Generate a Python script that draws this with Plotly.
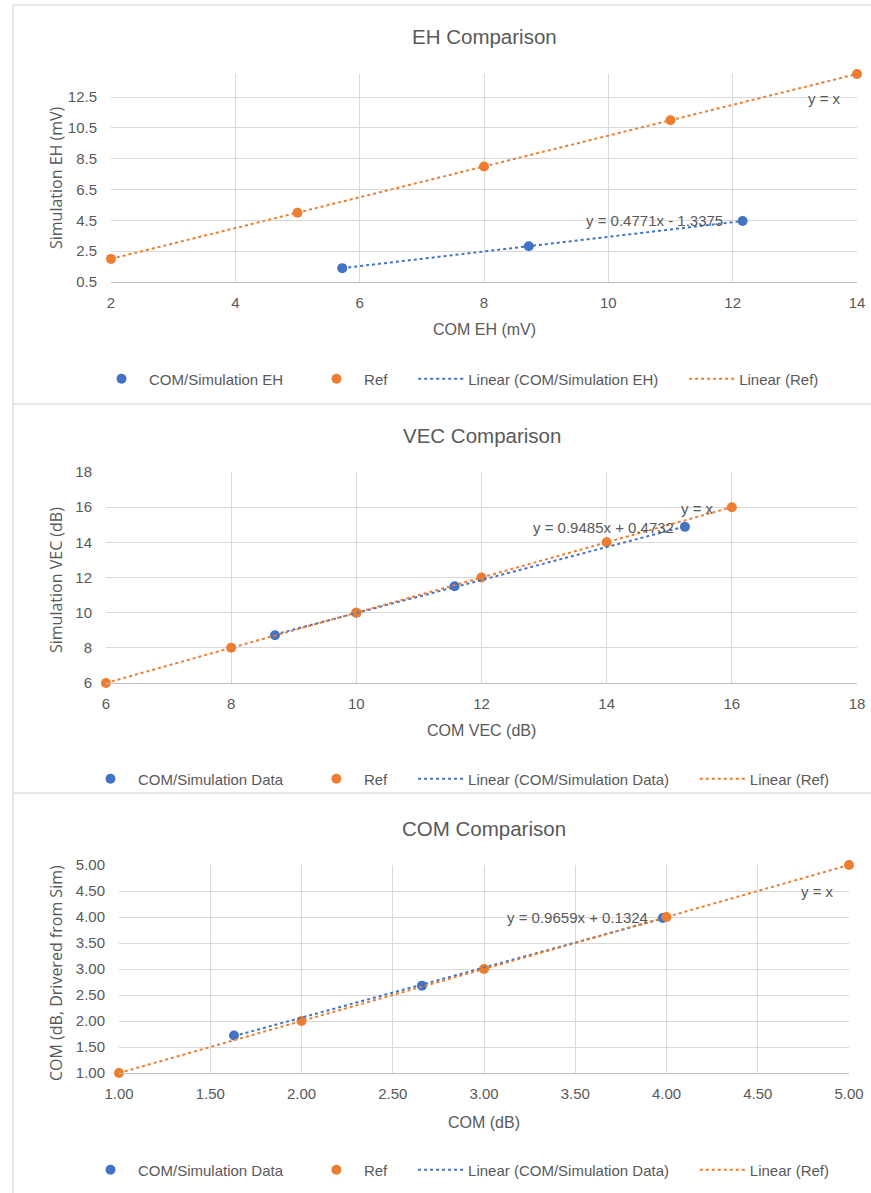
import numpy as np
import plotly.graph_objects as go

BLUE = "#4472C4"
ORANGE = "#ED7D31"
GRID = "#d9d9d9"
TXT = "#595959"
FONT = "Liberation Sans Narrow, Liberation Sans, sans-serif"
YFONT = "Open Sans, sans-serif"

W, H = 871, 1193
GAP = "\u00a0" * 5

# ---------------- data ----------------
titles = ["EH Comparison", "VEC Comparison", "COM Comparison"]
x_titles = ["COM EH (mV)", "COM VEC (dB)", "COM (dB)"]
y_titles = ["Simulation EH (mV)", "Simulation VEC (dB)", "COM (dB, Drivered from Sim)"]
series_names = ["COM/Simulation EH", "COM/Simulation Data", "COM/Simulation Data"]
eq_texts = ["y = 0.4771x - 1.3375", "y = 0.9485x + 0.4732", "y = 0.9659x + 0.1324"]

eh_com = [5.72, 8.72, 12.16]
eh_sim = [1.40, 2.82, 4.46]
eh_ref = [2, 5, 8, 11, 14]

vec_com = [8.70, 10.00, 11.57, 15.25]
vec_sim = [8.72, 10.00, 11.50, 14.88]
vec_ref = [6, 8, 10, 12, 14, 16]

com_com = [1.63, 2.66, 3.98]
com_sim = [1.72, 2.68, 3.98]
com_ref = [1, 2, 3, 4, 5]

eh_yticks = [0.5, 2.5, 4.5, 6.5, 8.5, 10.5, 12.5]
eh_xticks = [2, 4, 6, 8, 10, 12, 14]
vec_ticks = [6, 8, 10, 12, 14, 16, 18]
com_ticks = [1.0, 1.5, 2.0, 2.5, 3.0, 3.5, 4.0, 4.5, 5.0]

panels = [
    dict(x=eh_com, y=eh_sim, ref=eh_ref, xr=[2, 14], yr=[0.5, 14],
         xt=eh_xticks, yt=eh_yticks + [14], ytt=[str(v) for v in eh_yticks] + [""],
         xtt=[str(v) for v in eh_xticks],
         px=(111, 857), py=(74, 282), leg_y=379, xt_y=329, title_y=37, yt_y=178,
         eq=(10.75, 4.46), yx=(13.48, 12.4)),
    dict(x=vec_com, y=vec_sim, ref=vec_ref, xr=[6, 18], yr=[6, 18],
         xt=vec_ticks, yt=vec_ticks, ytt=[str(v) for v in vec_ticks],
         xtt=[str(v) for v in vec_ticks],
         px=(106, 857), py=(472, 683), leg_y=779, xt_y=731, title_y=436, yt_y=580,
         eq=(13.95, 14.82), yx=(15.45, 15.95)),
    dict(x=com_com, y=com_sim, ref=com_ref, xr=[1, 5], yr=[1, 5],
         xt=com_ticks, yt=com_ticks, ytt=[f"{v:.2f}" for v in com_ticks],
         xtt=[f"{v:.2f}" for v in com_ticks],
         px=(119, 849), py=(865, 1073), leg_y=1170, xt_y=1122, title_y=828, yt_y=973,
         eq=(3.51, 4.0), yx=(4.83, 4.5)),
]

fig = go.Figure()
annotations = []
layout = {}

for i, p in enumerate(panels):
    n = "" if i == 0 else str(i + 1)
    xa, ya = "x" + n, "y" + n
    leg = "legend" + n
    # data points
    fig.add_trace(go.Scatter(x=p["x"], y=p["y"], mode="markers", name=series_names[i] + GAP,
                             marker=dict(color=BLUE, size=10), xaxis=xa, yaxis=ya,
                             legend=leg, cliponaxis=False))
    fig.add_trace(go.Scatter(x=p["ref"], y=p["ref"], mode="markers", name="Ref" + GAP,
                             marker=dict(color=ORANGE, size=10), xaxis=xa, yaxis=ya,
                             legend=leg, cliponaxis=False))
    # trendlines (least squares over the data)
    k, b = np.polyfit(p["x"], p["y"], 1)
    xs = np.array([min(p["x"]), max(p["x"])])
    fig.add_trace(go.Scatter(x=xs, y=k * xs + b, mode="lines",
                             name=f"Linear ({series_names[i]})" + GAP,
                             line=dict(color=BLUE, width=2, dash="dot"),
                             xaxis=xa, yaxis=ya, legend=leg, cliponaxis=False))
    k2, b2 = np.polyfit(p["ref"], p["ref"], 1)
    xr = np.array([min(p["ref"]), max(p["ref"])])
    fig.add_trace(go.Scatter(x=xr, y=k2 * xr + b2, mode="lines", name="Linear (Ref)",
                             line=dict(color=ORANGE, width=2, dash="dot"),
                             xaxis=xa, yaxis=ya, legend=leg, cliponaxis=False))

    xd = [p["px"][0] / W, p["px"][1] / W]
    yd = [1 - p["py"][1] / H, 1 - p["py"][0] / H]
    layout["xaxis" + n] = dict(domain=xd, range=p["xr"], anchor=ya, tickvals=p["xt"],
                               ticktext=p["xtt"], showgrid=True, gridcolor=GRID,
                               zeroline=False, showline=True, linecolor="#bfbfbf",
                               linewidth=1, ticks="", fixedrange=True, automargin=False,
                               ticklabelstandoff=7,
                               tickfont=dict(family=FONT, size=15, color=TXT))
    layout["yaxis" + n] = dict(domain=yd, range=p["yr"], anchor=xa, tickvals=p["yt"],
                               ticktext=p["ytt"], showgrid=True, gridcolor=GRID,
                               zeroline=False, showline=False, ticks="",
                               fixedrange=True, automargin=False,
                               ticklabelstandoff=13,
                               tickfont=dict(family=FONT, size=15, color=TXT))
    layout[leg] = dict(orientation="h", x=459 / W, xanchor="center",
                       y=1 - p["leg_y"] / H, yanchor="middle",
                       font=dict(family=FONT, size=15, color=TXT),
                       bgcolor="rgba(0,0,0,0)", itemwidth=45)
    cx = (p["px"][0] + p["px"][1]) / 2 / W
    annotations += [
        dict(text=titles[i], x=cx, y=1 - p["title_y"] / H, xref="paper", yref="paper",
             xanchor="center", yanchor="middle",
             showarrow=False, font=dict(family=FONT, size=20.5, color=TXT)),
        dict(text=x_titles[i], x=cx, y=1 - p["xt_y"] / H, xref="paper", yref="paper",
             xanchor="center", yanchor="middle",
             showarrow=False, font=dict(family=FONT, size=16, color=TXT)),
        dict(text=y_titles[i], x=56 / W, y=1 - p["yt_y"] / H, xref="paper", yref="paper",
             xanchor="center", yanchor="middle",
             textangle=-90, showarrow=False, font=dict(family=YFONT, size=16, color=TXT)),
        dict(text=eq_texts[i], x=p["eq"][0], y=p["eq"][1], xref=xa, yref=ya,
             xanchor="center", yanchor="middle",
             showarrow=False, font=dict(family=FONT, size=15, color=TXT)),
        dict(text="y = x", x=p["yx"][0], y=p["yx"][1], xref=xa, yref=ya,
             xanchor="center", yanchor="middle",
             showarrow=False, font=dict(family=FONT, size=15, color=TXT)),
    ]

border = "#d0d0d0"
shapes = [
    dict(type="line", xref="paper", yref="paper", x0=13 / W, x1=1, y0=1 - 5 / H, y1=1 - 5 / H,
         line=dict(color=border, width=1)),
    dict(type="line", xref="paper", yref="paper", x0=13 / W, x1=13 / W, y0=0, y1=1 - 5 / H,
         line=dict(color=border, width=1)),
    dict(type="line", xref="paper", yref="paper", x0=13 / W, x1=1, y0=1 - 404 / H, y1=1 - 404 / H,
         line=dict(color=border, width=1)),
    dict(type="line", xref="paper", yref="paper", x0=13 / W, x1=1, y0=1 - 793 / H, y1=1 - 793 / H,
         line=dict(color=border, width=1)),
]

fig.update_layout(width=W, height=H,
                  margin=dict(l=0, r=0, t=0, b=0, pad=0, autoexpand=False),
                  paper_bgcolor="white", plot_bgcolor="white",
                  annotations=annotations, shapes=shapes, **layout)

fig.write_html("out.html", config={"displayModeBar": False},
               post_script="document.body.style.margin='0';document.body.style.overflow='hidden';")
